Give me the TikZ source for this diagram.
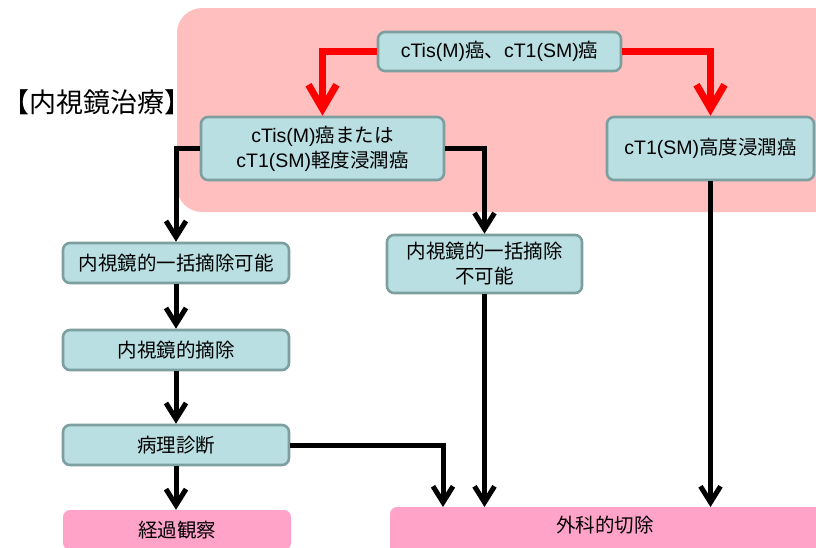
\documentclass[tikz,border=0pt]{standalone}
\usepackage{fontspec}
\setmainfont{Liberation Sans}
\newfontfamily\jp{Noto Sans CJK JP}
\usetikzlibrary{arrows.meta}
\definecolor{boxfill}{HTML}{BADFE2}
\definecolor{boxline}{HTML}{7D9FA0}
\definecolor{bgpink}{HTML}{FFBFBF}
\definecolor{endpink}{HTML}{FFA3C8}
\definecolor{arrred}{HTML}{FF0000}
\begin{document}
\begin{tikzpicture}[x=1pt,y=-1pt,
  stepbox/.style={draw=boxline,line width=2.6pt,fill=boxfill,rounded corners=7pt,
    align=center,inner sep=0pt,font=\fontsize{19.5}{25}\selectfont},
  jpbox/.style={stepbox,font=\jp\fontsize{19.5}{25}\selectfont},
  endbox/.style={fill=endpink,rounded corners=7pt,inner sep=0pt,
    font=\jp\fontsize{19.5}{25}\selectfont},
  redarr/.style={draw=arrred,line width=7pt,-{Straight Barb[length=24pt,width=28pt]}},
  blkarr/.style={draw=black,line width=5pt,-{Straight Barb[length=16pt,width=20pt]}}]
\useasboundingbox (0,0) rectangle (816,547);
\fill[bgpink,rounded corners=25pt] (177,8) rectangle (860,212);
\node[font=\jp\fontsize{27}{30}\selectfont] (hdr) at (97,102) {【内視鏡治療】};
\node[stepbox,minimum width=243pt,minimum height=39pt] (top) at (499.5,51.5) {cTis(M){\jp 癌、}cT1(SM){\jp 癌}};
\node[stepbox,minimum width=243pt,minimum height=63pt] (lbox) at (322.5,148.5) {cTis(M){\jp 癌または}\\cT1(SM){\jp 軽度浸潤癌}};
\node[stepbox,minimum width=207pt,minimum height=63pt] (rbox) at (710.5,148.5) {cT1(SM){\jp 高度浸潤癌}};
\node[jpbox,minimum width=226pt,minimum height=40pt] (ok) at (176,263) {内視鏡的一括摘除可能};
\node[jpbox,minimum width=195pt,minimum height=58pt] (ng) at (484.5,264) {内視鏡的一括摘除\\不可能};
\node[jpbox,minimum width=226pt,minimum height=40pt] (res) at (176,350) {内視鏡的摘除};
\node[jpbox,minimum width=226pt,minimum height=40pt] (path) at (176,445) {病理診断};
\node[endbox,minimum width=228pt,minimum height=40pt] (fol) at (177,530) {経過観察};
\node[endbox,minimum width=440pt,minimum height=50pt] (surg) at (610,532) {};
\node[font=\jp\fontsize{19.5}{25}\selectfont] (surgt) at (605,525) {外科的切除};
\coordinate (sa) at (443,507);
\draw[redarr] (top.west) -| (lbox.north);
\draw[redarr] (top.east) -| (rbox.north);
\draw[blkarr] (lbox.west) -| (ok.north);
\draw[blkarr] (lbox.east) -| (ng.north);
\draw[blkarr] (ok) -- (res);
\draw[blkarr] (res) -- (path);
\draw[blkarr] (path.south) -- (path.south |- fol.north);
\draw[blkarr] (path.east) -| (sa);
\draw[blkarr] (ng.south) -- (ng.south |- sa);
\draw[blkarr] (rbox.south) -- (rbox.south |- sa);
\end{tikzpicture}
\end{document}
